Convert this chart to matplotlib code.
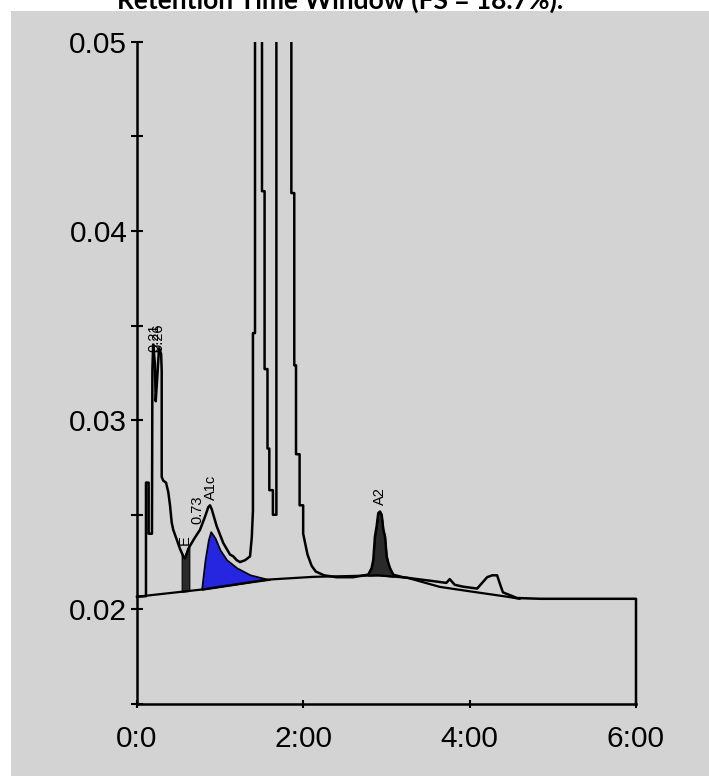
import numpy as np
import matplotlib.pyplot as plt
from matplotlib.patches import Rectangle

# chromatogram trace (retention time in min, absorbance)
trace_t = [0, 0.108, 0.108, 0.14, 0.14, 0.18, 0.185, 0.195, 0.215, 0.225,
           0.24, 0.265, 0.29, 0.297, 0.297, 0.316, 0.349, 0.376, 0.397, 0.417,
           0.436, 0.477, 0.517, 0.537, 0.557, 0.577, 0.617, 0.629, 0.697, 0.757,
           0.818, 0.857, 0.878, 0.898, 0.958, 1.038, 1.118, 1.158, 1.199, 1.238,
           1.30, 1.359, 1.38, 1.394, 1.394, 1.419, 1.419, 1.503, 1.503, 1.534,
           1.534, 1.569, 1.569, 1.591, 1.591, 1.634, 1.634, 1.676, 1.676, 1.856,
           1.856, 1.891, 1.891, 1.912, 1.912, 1.955, 1.955, 1.998, 1.998, 2.05,
           2.10, 2.15, 2.25, 2.4, 2.6, 2.781, 2.821, 2.841, 2.861, 2.881,
           2.901, 2.922, 2.942, 2.962, 2.982, 3.002, 3.022, 3.042, 3.082, 3.2,
           3.37, 3.55, 3.72, 3.76, 3.80, 3.82, 3.92, 4.09, 4.21, 4.27,
           4.33, 4.36, 4.40, 4.57, 4.85, 6.0, 6.0]
trace_y = [0.02067, 0.0207, 0.0267, 0.0267, 0.0240, 0.0240, 0.0327, 0.0340, 0.0330, 0.0310,
           0.0320, 0.0338, 0.0335, 0.0326, 0.0270, 0.0268, 0.0267, 0.0262, 0.0255, 0.0246,
           0.0242, 0.0237, 0.0232, 0.0230, 0.0228, 0.0227, 0.0232, 0.0233, 0.0238, 0.0242,
           0.0249, 0.0254, 0.0255, 0.0253, 0.0244, 0.0235, 0.0229, 0.0228, 0.0226, 0.0225,
           0.0226, 0.0228, 0.0238, 0.0252, 0.0346, 0.0346, 0.06, 0.06, 0.0421, 0.0421,
           0.0327, 0.0327, 0.0285, 0.0285, 0.0263, 0.0263, 0.0250, 0.0250, 0.06, 0.06,
           0.0420, 0.0420, 0.0329, 0.0329, 0.0282, 0.0282, 0.0255, 0.0255, 0.0240, 0.0229,
           0.0223, 0.0220, 0.0218, 0.0217, 0.0217, 0.02184, 0.02218, 0.02262, 0.02385, 0.02438,
           0.02509, 0.02517, 0.02500, 0.02421, 0.02385, 0.02280, 0.02245, 0.02218, 0.02183, 0.0217,
           0.0216, 0.0215, 0.0214, 0.0216, 0.0214, 0.0213, 0.0212, 0.0211, 0.0217, 0.0218,
           0.0218, 0.0214, 0.0209, 0.0206, 0.02056, 0.02056, 0.015]

# integration baseline
base_t = [0, 0.76, 1.56, 2.12, 2.44, 2.9, 3.25, 3.64, 4.04, 4.45, 4.6]
base_y = [0.02067, 0.02104, 0.02157, 0.02172, 0.02175, 0.02180, 0.02167, 0.02119, 0.02093, 0.02067, 0.02056]

# A1c peak (skimmed) upper edge
a1c_t = [0.778, 0.818, 0.857, 0.886, 0.938, 0.998, 1.079, 1.199, 1.359, 1.591]
a1c_y = [0.02113, 0.02262, 0.02367, 0.02411, 0.02378, 0.02315, 0.02262, 0.02220, 0.02183, 0.02157]

# peak labels
peak_names = ['0.21', '0.26', 'E', '0.73', 'A1c', 'A2']
peak_t = [0.21, 0.26, 0.58, 0.72, 0.89, 2.92]
peak_top = [0.0336, 0.0336, 0.0234, 0.0245, 0.0258, 0.0255]

e_range = (0.537, 0.629)
a2_range = (2.781, 3.082)

xticks = [0, 2, 4, 6]
xticklabels = ['0:0', '2:00', '4:00', '6:00']
yticks = [0.02, 0.03, 0.04, 0.05]
yminor = [0.015, 0.025, 0.035, 0.045]

gray = '#d3d3d3'

fig = plt.figure(figsize=(7.09, 7.76), dpi=100)
fig.patch.set_facecolor('white')
fig.patches.append(Rectangle((11 / 709, 0), 1, 1 - 11 / 776, transform=fig.transFigure,
                             facecolor=gray, edgecolor='none', zorder=-10))

fig.text(340 / 709, 1 - 8.5 / 776, 'Retention Time Window (FS = 18.7%).', ha='center',
         va='baseline', fontsize=19, fontweight='bold', family='Lato')

ax = fig.add_axes([137 / 709, 1 - 704 / 776, (636 - 137) / 709, (704 - 41.7) / 776])
ax.set_facecolor('none')
ax.set_xlim(0, 6)
ax.set_ylim(0.015, 0.05)

tt = np.array(trace_t)
ty = np.array(trace_y)

# E and A2 peaks - dark fills
for lo, hi in [e_range, a2_range]:
    m = (tt >= lo) & (tt <= hi)
    ax.fill_between(tt[m], np.interp(tt[m], base_t, base_y), ty[m],
                    facecolor='#2a2a2a', edgecolor='black', lw=0.8, zorder=2)

# A1c - blue
ax.fill_between(a1c_t, np.interp(a1c_t, base_t, base_y), a1c_y,
                facecolor='#2626e0', edgecolor='black', lw=1.2, zorder=2)

ax.plot(base_t, base_y, color='black', lw=1.6, zorder=3)
line, = ax.plot(trace_t, trace_y, color='black', lw=1.8, zorder=4)
clip = Rectangle((-1, 0.0), 8, 0.05, transform=ax.transData)
line.set_clip_path(clip)

for name, t, y in zip(peak_names, peak_t, peak_top):
    ax.text(t, y, name, rotation=90, ha='center', va='bottom', fontsize=10.5,
            family='Liberation Sans', zorder=5)

for s in ['top', 'right']:
    ax.spines[s].set_visible(False)
for s in ['left', 'bottom']:
    ax.spines[s].set_linewidth(1.8)

ax.set_xticks(xticks)
ax.set_xticklabels(xticklabels)
ax.set_yticks(yticks)
ax.set_yticklabels(['%.2f' % v for v in yticks])
ax.set_yticks(yminor, minor=True)
ax.tick_params(axis='y', which='both', direction='inout', length=8, width=1.5,
               labelsize=21.5, pad=3)
ax.tick_params(axis='x', which='both', direction='inout', length=6, width=1.5,
               labelsize=21.5, pad=12)
for lab in ax.get_xticklabels() + ax.get_yticklabels():
    lab.set_family('Liberation Sans')

fig.savefig('out.png', dpi=100)
